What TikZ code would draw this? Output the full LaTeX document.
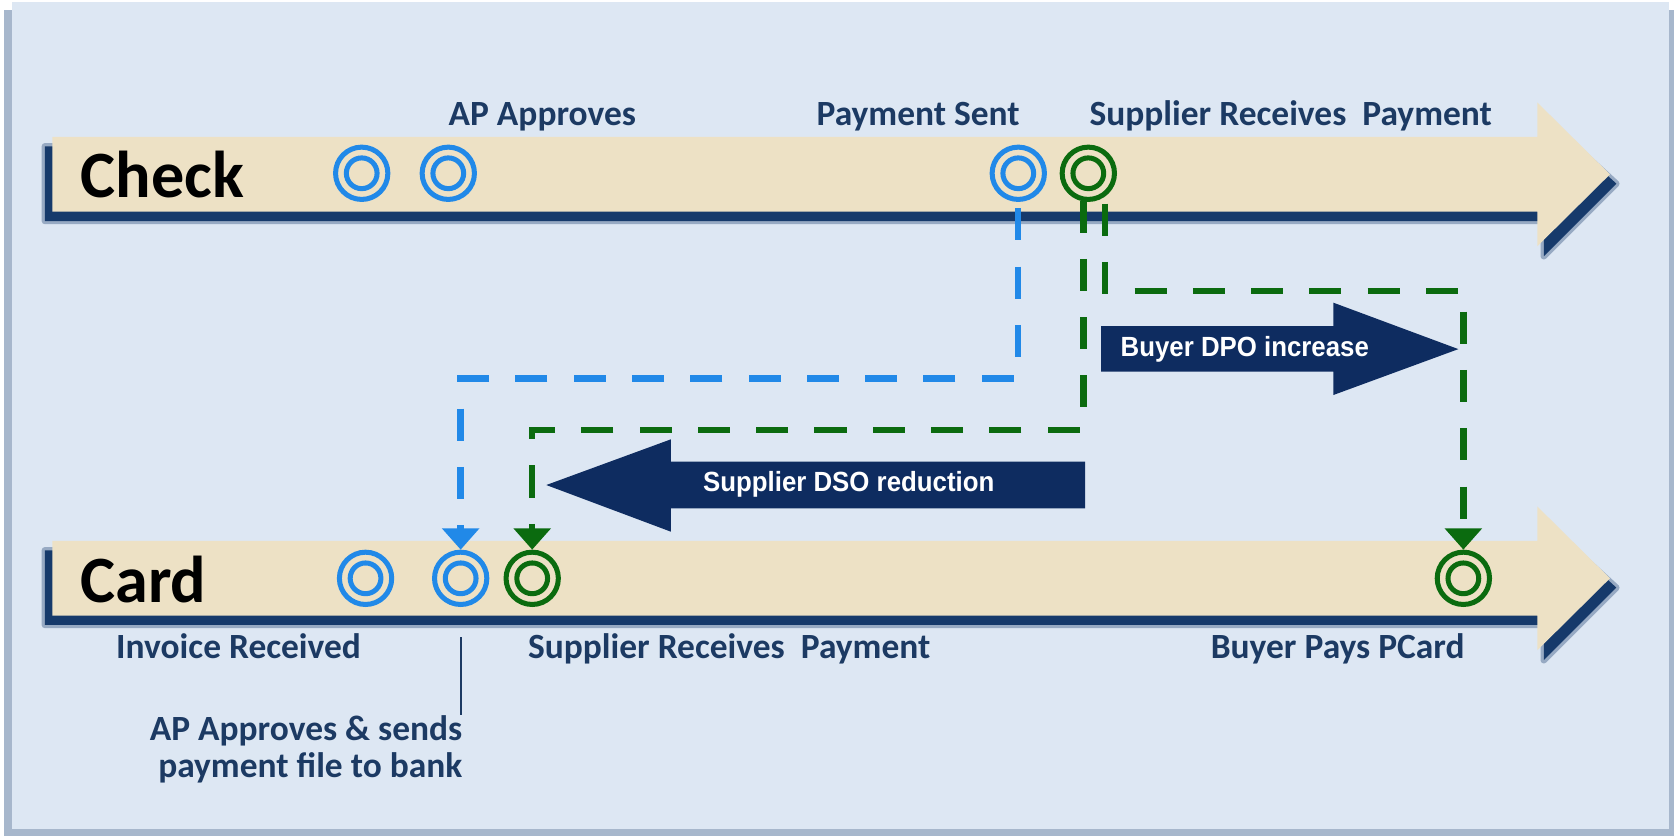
\documentclass[tikz,border=0pt]{standalone}
\usepackage{fontspec}
\setmainfont{Carlito}
\newfontfamily\arialn[FakeStretch=0.93]{Liberation Sans}
\usetikzlibrary{calc,arrows.meta}
\definecolor{panel}{HTML}{DDE7F3}
\definecolor{frame}{HTML}{A7B7CC}
\definecolor{beige}{HTML}{EDE1C5}
\definecolor{shadow}{HTML}{163A6B}
\definecolor{cblue}{HTML}{2189E8}
\definecolor{cgreen}{HTML}{0B6B0F}
\definecolor{lblnavy}{HTML}{1C3A63}
\definecolor{blocknavy}{HTML}{0E2C60}
\tikzset{
  bring/.style={circle, draw=cblue, line width=2.35pt, minimum size=24.5pt, inner sep=0pt,
    path picture={\draw[cblue, line width=2.35pt] (path picture bounding box.center) circle (7.2pt);}},
  gring/.style={circle, draw=cgreen, line width=2.35pt, minimum size=24.5pt, inner sep=0pt,
    path picture={\draw[cgreen, line width=2.35pt] (path picture bounding box.center) circle (7.2pt);}},
  lbl/.style={text=lblnavy, font=\bfseries\fontsize{16.6}{20}\selectfont, inner sep=0pt},
  ttl/.style={text=black, font=\bfseries\fontsize{31}{36}\selectfont, inner sep=0pt, anchor=base west},
  dashline/.style={line width=3pt, dash pattern=on 15pt off 12.3pt},
  bluedash/.style={dashline, draw=cblue, -{Triangle[width=17pt,length=10pt]}},
  greendash/.style={dashline, draw=cgreen, -{Triangle[width=17pt,length=10pt]}},
  blocktext/.style={text=white, font=\arialn\bfseries\fontsize{13}{15}\selectfont, inner sep=0pt},
}
\newcommand\timeband{%
  \draw[shadow, opacity=.35, line width=3pt, line join=round]
    (42,137) -- (1446,137) -- (1446,110) -- (1514,172) -- (1446,240) -- (1446,207) -- (42,207) -- cycle;
  \fill[shadow]
    (42,137) -- (1446,137) -- (1446,110) -- (1514,172) -- (1446,240) -- (1446,207) -- (42,207) -- cycle;
  \fill[beige] (49,128.3) -- (1440,128.3) -- (1440,96) -- (1508,163.3) -- (1440,230.6) -- (1440,198.3) -- (49,198.3) -- cycle;
}
\begin{document}
\begin{tikzpicture}[x=0.5pt,y=-0.5pt]
\useasboundingbox (0,0) rectangle (1568,783);
\fill[white] (0,0) rectangle (1568,783);
\fill[frame] (3.7,9) rectangle (1568,783);
\fill[panel] (11.2,1.9) rectangle (1563.3,776.5);

% bands
\timeband
\begin{scope}[shift={(0,378.4)}]
\timeband
\end{scope}

\node[ttl] (check) at (75,185) {Check};
\node[ttl] (card) at (75,564) {Card};

% block arrows
\fill[blocknavy] (1031.3,305.4) -- (1248.9,305.4) -- (1248.9,283.5) -- (1366,327) -- (1248.9,370) -- (1248.9,348.1) -- (1031.3,348.1) -- cycle;
\node[blocktext] (dpo) at (1166,327) {Buyer DPO increase};
\fill[blocknavy] (1016.5,432.4) -- (628.4,432.4) -- (628.4,411.5) -- (511.7,454.3) -- (628.4,498) -- (628.4,476.2) -- (1016.5,476.2) -- cycle;
\node[blocktext] (dso) at (795,454) {Supplier DSO reduction};

% circles
\node[bring] (b1) at (338.8,162.3) {};
\node[bring] (b2) at (419.9,162.3) {};
\node[bring] (b3) at (953.8,162.3) {};
\node[gring] (g1) at (1019.4,162.3) {};
\node[bring] (b4) at (342.4,541.7) {};
\node[bring] (b5) at (431.5,541.7) {};
\node[gring] (g2) at (498.5,541.7) {};
\node[gring] (g3) at (1370.7,541.7) {};

% connector levels
\coordinate (blevel) at (0,354.7);
\coordinate (g1level) at (0,402.8);
\coordinate (g2level) at (0,272.3);
\coordinate (g1a) at ($(g1.center)+(-4.7,23.5)$);
\coordinate (g1b) at ($(g1.center)+(15.6,18.5)$);

\draw[bluedash, dash phase=-3pt] (b3.south) -- (b3.south |- blevel) -- (b5.north |- blevel) -- (b5.north);
\draw[greendash, dash phase=-1pt] (g1a) -- (g1a |- g1level) -- (g2.north |- g1level) -- (g2.north);
\draw[greendash, dash phase=-5pt] (g1b) -- (g1b |- g2level) -- (g3.north |- g2level) -- (g3.north);

% labels
\node[lbl, anchor=base] (l1) at (508,118) {AP Approves};
\node[lbl, anchor=base] (l2) at (860,118) {Payment Sent};
\node[lbl, anchor=base] (l3) at (1209,118) {Supplier Receives\ \ Payment};
\node[lbl, anchor=base] (l4) at (223.5,617) {Invoice Received};
\node[lbl, anchor=base] (l5) at (683,617) {Supplier Receives\ \ Payment};
\node[lbl, anchor=base] (l6) at (1253,617) {Buyer Pays PCard};
\node[lbl, anchor=north east, align=right, font=\bfseries\fontsize{16.6}{17.5}\selectfont] (l7) at (433.5,670) {AP Approves \& sends\\payment file to bank};
\coordinate (tickTop) at (0,597);
\draw[lblnavy, line width=1pt] (b5.south |- tickTop) -- (b5.south |- l7.north);
\end{tikzpicture}
\end{document}
